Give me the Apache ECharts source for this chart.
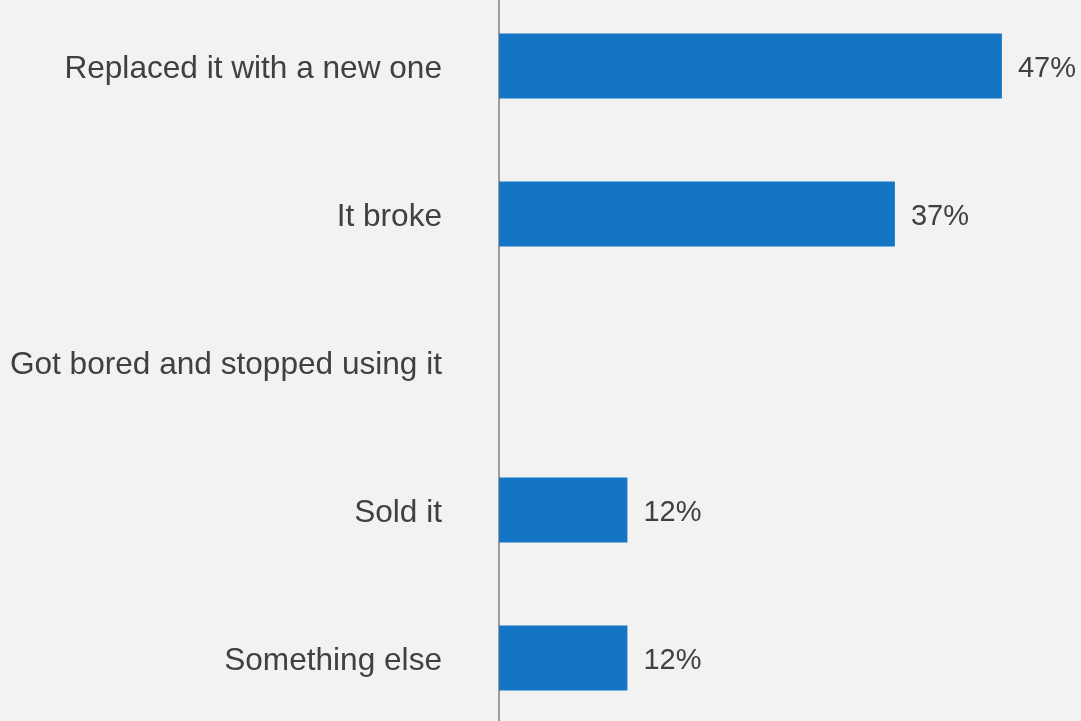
<!DOCTYPE html>
<html>
<head>
<meta charset="utf-8">
<script src="https://cdn.jsdelivr.net/npm/echarts@6/dist/echarts.min.js"></script>
<style>
html,body{margin:0;padding:0;background:#f2f2f2;}
#chart{width:1081px;height:721px;}
</style>
</head>
<body>
<div id="chart"></div>
<script>
const categories = ["Replaced it with a new one", "It broke", "Got bored and stopped using it", "Sold it", "Something else"];
const values = [47, 37, null, 12, 12];

const FONT = 'Liberation Sans, Arial, sans-serif';
const chart = echarts.init(document.getElementById('chart'));
chart.setOption({
  backgroundColor: '#f2f2f2',
  animation: false,
  grid: { left: 499, width: 535, top: -8, height: 740, outerBoundsMode: 'none', containLabel: false },
  xAxis: { type: 'value', min: 0, max: 50, show: false },
  yAxis: {
    type: 'category',
    data: categories,
    inverse: true,
    axisLine: { show: true, lineStyle: { color: '#7f7f7f', width: 1.5 } },
    axisTick: { show: false },
    axisLabel: {
      margin: 57,
      formatter: v => '{a|' + v + '}',
      rich: { a: { color: '#404040', fontSize: 31.6, fontFamily: FONT, padding: [6, 0, 0, 0] } }
    }
  },
  series: [{
    type: 'bar',
    data: values,
    barWidth: 65,
    itemStyle: { color: '#1475c5' },
    label: {
      show: true,
      position: 'right',
      distance: 16,
      formatter: p => (p.value == null ? '' : '{a|' + p.value + '%}'),
      rich: { a: { color: '#404040', fontSize: 29, fontFamily: FONT, padding: [6, 0, 0, 0] } }
    }
  }]
});
</script>
</body>
</html>
